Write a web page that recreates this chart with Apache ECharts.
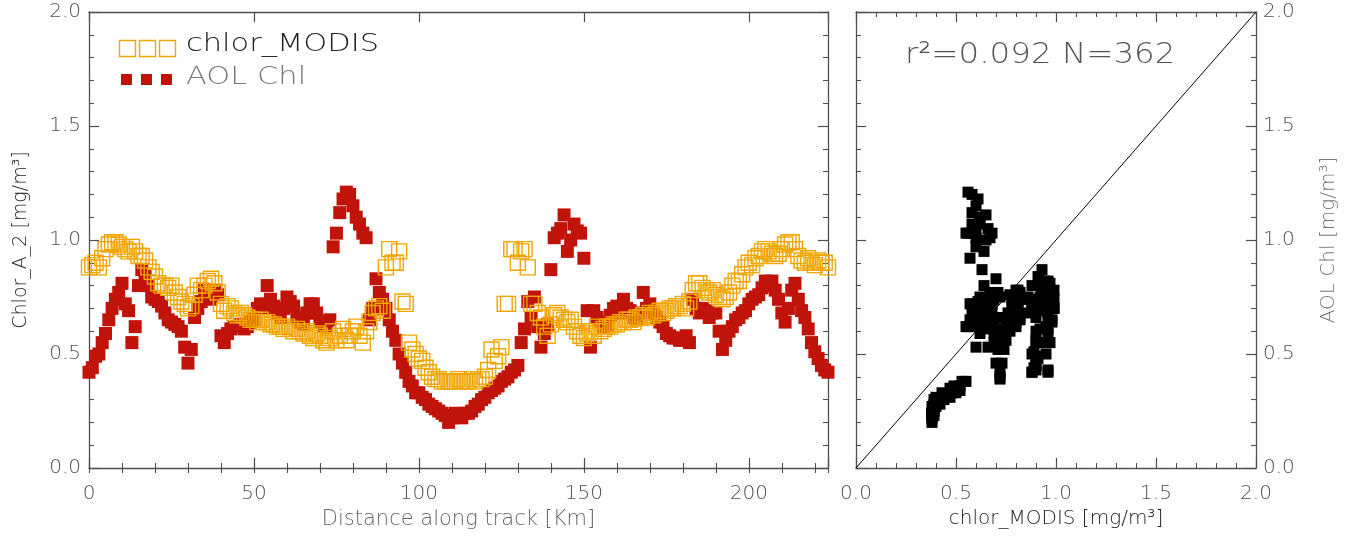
<!DOCTYPE html>
<html><head><meta charset="utf-8">
<script src="https://cdn.jsdelivr.net/npm/echarts@6/dist/echarts.min.js"></script>
<style>html,body{margin:0;padding:0;background:#fff}#c{width:1351px;height:537px}</style>
</head><body><div id="c"></div>
<script>
// Distance along track [Km]
const distanceKm = [
0,1,2,3,4,5,6,7,8,9,10,11,12,13,14,15,16,17,18,19,
20,21,22,23,24,25,26,27,28,29,30,31,32,33,34,35,36,37,38,39,
40,41,42,43,44,45,46,47,48,49,50,51,52,53,54,55,56,57,58,59,
60,61,62,63,64,65,66,67,68,69,70,71,72,73,74,75,76,77,78,79,
80,81,82,83,84,85,86,87,88,89,90,91,92,93,94,95,96,97,98,99,
100,101,102,103,104,105,106,107,108,109,110,111,112,113,114,115,116,117,118,119,
120,121,122,123,124,125,126,127,128,129,130,131,132,133,134,135,136,137,138,139,
140,141,142,143,144,145,146,147,148,149,150,151,152,153,154,155,156,157,158,159,
160,161,162,163,164,165,166,167,168,169,170,171,172,173,174,175,176,177,178,179,
180,181,182,183,184,185,186,187,188,189,190,191,192,193,194,195,196,197,198,199,
200,201,202,203,204,205,206,207,208,209,210,211,212,213,214,215,216,217,218,219,
220,221,222,223,224];

// chlor_MODIS [mg/m3]
const chlorModis = [
0.88,0.89,0.90,0.88,0.92,0.96,0.98,0.99,0.99,0.98,
0.97,0.96,0.95,0.97,0.95,0.93,0.93,0.91,0.88,0.86,
0.84,0.81,0.80,0.80,0.79,0.80,0.77,0.75,0.73,0.72,
0.70,0.71,0.76,0.80,0.78,0.80,0.82,0.83,0.81,0.77,
0.72,0.69,0.71,0.70,0.68,0.67,0.68,0.67,0.66,0.65,
0.65,0.64,0.65,0.64,0.64,0.63,0.63,0.62,0.62,0.61,
0.62,0.61,0.60,0.61,0.60,0.59,0.60,0.58,0.57,0.59,
0.58,0.56,0.55,0.57,0.60,0.56,0.58,0.61,0.56,0.58,
0.60,0.62,0.58,0.55,0.60,0.64,0.68,0.70,0.71,0.69,
0.88,0.96,0.90,0.90,0.95,0.73,0.72,0.55,0.52,0.50,
0.48,0.47,0.44,0.42,0.40,0.39,0.39,0.38,0.38,0.38,
0.38,0.38,0.39,0.38,0.38,0.38,0.39,0.38,0.39,0.39,
0.40,0.43,0.52,0.47,0.49,0.53,0.72,0.72,0.96,0.96,
0.90,0.95,0.96,0.88,0.72,0.72,0.68,0.66,0.62,0.58,
0.63,0.67,0.68,0.66,0.65,0.64,0.65,0.62,0.60,0.58,
0.57,0.59,0.60,0.58,0.62,0.60,0.61,0.62,0.62,0.63,
0.63,0.64,0.64,0.65,0.65,0.64,0.66,0.66,0.67,0.66,
0.68,0.67,0.68,0.69,0.68,0.69,0.70,0.70,0.71,0.71,
0.72,0.70,0.73,0.78,0.81,0.81,0.79,0.78,0.77,0.78,
0.76,0.75,0.74,0.75,0.77,0.80,0.82,0.82,0.85,0.88,
0.90,0.89,0.92,0.93,0.95,0.96,0.95,0.94,0.93,0.94,
0.96,0.98,0.99,0.99,0.96,0.93,0.91,0.90,0.92,0.90,
0.89,0.91,0.90,0.90,0.88];

// AOL Chl [mg/m3]
const aolChl = [
0.42,0.44,0.49,0.50,0.55,0.59,0.65,0.70,0.74,0.77,
0.81,0.72,0.69,0.55,0.62,0.80,0.87,0.84,0.80,0.75,
0.74,0.73,0.71,0.68,0.65,0.64,0.63,0.62,0.60,0.53,
0.46,0.52,0.66,0.70,0.73,0.78,0.77,0.74,0.78,0.76,
0.58,0.55,0.59,0.61,0.62,0.62,0.63,0.61,0.62,0.64,
0.65,0.70,0.72,0.70,0.80,0.74,0.71,0.68,0.66,0.70,
0.75,0.73,0.71,0.66,0.64,0.63,0.68,0.72,0.72,0.68,
0.64,0.62,0.62,0.65,0.97,1.03,1.12,1.18,1.21,1.20,
1.15,1.10,1.07,1.03,1.01,0.65,0.70,0.83,0.77,0.74,
0.70,0.65,0.60,0.56,0.50,0.46,0.42,0.38,0.36,0.33,
0.33,0.31,0.30,0.28,0.27,0.26,0.25,0.24,0.23,0.20,
0.22,0.24,0.23,0.22,0.24,0.24,0.25,0.27,0.28,0.30,
0.31,0.33,0.34,0.35,0.36,0.38,0.39,0.40,0.42,0.43,
0.45,0.55,0.61,0.73,0.66,0.75,0.62,0.53,0.59,0.63,
0.87,1.01,1.03,1.05,1.11,0.95,1.00,1.07,1.04,1.03,
0.92,0.69,0.53,0.69,0.66,0.64,0.62,0.63,0.67,0.70,
0.71,0.68,0.74,0.70,0.69,0.66,0.65,0.68,0.77,0.70,
0.72,0.68,0.66,0.64,0.62,0.59,0.58,0.57,0.57,0.56,
0.56,0.58,0.55,0.74,0.70,0.68,0.70,0.69,0.66,0.68,
0.68,0.60,0.52,0.56,0.60,0.62,0.65,0.66,0.68,0.69,
0.72,0.74,0.75,0.76,0.79,0.82,0.80,0.82,0.78,0.74,
0.68,0.64,0.70,0.78,0.81,0.74,0.69,0.66,0.61,0.55,
0.51,0.48,0.45,0.43,0.42];

const oneToOneLine = [0, 2];
const seriesNames = ['chlor_MODIS', 'AOL Chl'];
const statsLabel = 'r²=0.092 N=362';
const leftXName = 'Distance along track [Km]';
const leftYName = 'Chlor_A_2 [mg/m³]';
const rightXName = 'chlor_MODIS [mg/m³]';
const rightYName = 'AOL Chl [mg/m³]';

const FONT = 'DejaVu Sans';
const AX = '#505050';
const ORANGE = '#f0a500';
const RED = '#c0140a';

const modisPts = distanceKm.map((d, i) => [d, chlorModis[i]]);
const aolPts = distanceKm.map((d, i) => [d, aolChl[i]]);
const pairPts = chlorModis.map((m, i) => [m, aolChl[i]]);

function axis(o) {
  return Object.assign({
    type: 'value', scale: false,
    axisLine: { show: true, onZero: false, lineStyle: { color: AX, width: 1.3 } },
    axisTick: { show: true, inside: true, length: 10, lineStyle: { color: AX, width: 1.2 } },
    minorTick: { show: false },
    splitLine: { show: false },
    axisLabel: { show: false }
  }, o);
}
const lblStyle = { show: true, color: AX, fontFamily: FONT, fontSize: 20, fontWeight: 300 };
const minor = { show: true, splitNumber: 5, length: 5, lineStyle: { color: AX, width: 1.1 } };

const xAxes = [
  axis({ gridIndex: 0, position: 'bottom', min: 0, max: 224, interval: 50,
    axisLabel: Object.assign({}, lblStyle, { margin: 16, formatter: v => (v % 50 === 0 ? String(v) : '') }),
    name: leftXName, nameLocation: 'middle', nameGap: 40,
    nameTextStyle: { color: '#666', fontFamily: FONT, fontSize: 21, fontWeight: 300 } }),
  axis({ gridIndex: 0, position: 'bottom', min: 0, max: 224, interval: 10,
    axisLine: { show: false }, axisTick: { show: true, inside: true, length: 5, lineStyle: { color: AX, width: 1.1 } } }),
  axis({ gridIndex: 0, position: 'top', min: 0, max: 224, interval: 50 }),
  axis({ gridIndex: 0, position: 'top', min: 0, max: 224, interval: 10,
    axisLine: { show: false }, axisTick: { show: true, inside: true, length: 5, lineStyle: { color: AX, width: 1.1 } } }),
  axis({ gridIndex: 1, position: 'bottom', min: 0, max: 2, interval: 0.5, minorTick: minor,
    axisLabel: Object.assign({}, lblStyle, { margin: 16, formatter: v => v.toFixed(1) }),
    name: rightXName, nameLocation: 'middle', nameGap: 40,
    nameTextStyle: { color: '#222', fontFamily: FONT, fontSize: 20, fontWeight: 300 } }),
  axis({ gridIndex: 1, position: 'top', min: 0, max: 2, interval: 0.5, minorTick: minor })
];
const yAxes = [
  axis({ gridIndex: 0, position: 'left', min: 0, max: 2, interval: 0.5, minorTick: minor,
    axisLabel: Object.assign({}, lblStyle, { margin: 8, formatter: v => v.toFixed(1) }),
    name: leftYName, nameLocation: 'middle', nameGap: 58, nameRotate: 90,
    nameTextStyle: { color: '#222', fontFamily: FONT, fontSize: 19, fontWeight: 300 } }),
  axis({ gridIndex: 0, position: 'right', min: 0, max: 2, interval: 0.5, minorTick: minor }),
  axis({ gridIndex: 1, position: 'left', min: 0, max: 2, interval: 0.5, minorTick: minor }),
  axis({ gridIndex: 1, position: 'right', min: 0, max: 2, interval: 0.5, minorTick: minor,
    axisLabel: Object.assign({}, lblStyle, { margin: 7, formatter: v => v.toFixed(1) }),
    name: rightYName, nameLocation: 'middle', nameGap: 63, nameRotate: 90,
    nameTextStyle: { color: '#777', fontFamily: FONT, fontSize: 20, fontWeight: 300 } })
];

const chart = echarts.init(document.getElementById('c'), null, { renderer: 'canvas' });
chart.setOption({
  animation: false,
  backgroundColor: '#fff',
  grid: [
    { left: 89, right: 523, top: 12, bottom: 69 },
    { left: 856, right: 95, top: 12, bottom: 69 }
  ],
  xAxis: xAxes,
  yAxis: yAxes,
  series: [
    { name: seriesNames[1], type: 'scatter', xAxisIndex: 0, yAxisIndex: 0, data: aolPts,
      symbol: 'rect', symbolSize: 13, itemStyle: { color: RED, opacity: 1 } },
    { name: seriesNames[0], type: 'scatter', xAxisIndex: 0, yAxisIndex: 0, data: modisPts,
      symbol: 'rect', symbolSize: 15,
      itemStyle: { color: 'rgba(0,0,0,0)', borderColor: ORANGE, borderWidth: 1.4, opacity: 1 } },
    { name: 'scatter', type: 'scatter', xAxisIndex: 4, yAxisIndex: 2, data: pairPts,
      symbol: 'rect', symbolSize: 11, itemStyle: { color: '#000', opacity: 1 } },
    { name: '1:1', type: 'line', xAxisIndex: 4, yAxisIndex: 2, symbol: 'none',
      data: [[oneToOneLine[0], oneToOneLine[0]], [oneToOneLine[1], oneToOneLine[1]]],
      lineStyle: { color: '#000', width: 1 } }
  ],
  graphic: [
    { type: 'rect', left: 117, top: 38, shape: { width: 16, height: 16 }, style: { fill: 'none', stroke: ORANGE, lineWidth: 1.4 } },
    { type: 'rect', left: 137, top: 38, shape: { width: 16, height: 16 }, style: { fill: 'none', stroke: ORANGE, lineWidth: 1.4 } },
    { type: 'rect', left: 157, top: 38, shape: { width: 16, height: 16 }, style: { fill: 'none', stroke: ORANGE, lineWidth: 1.4 } },
    { type: 'rect', left: 121, top: 74, shape: { width: 11, height: 11 }, style: { fill: RED } },
    { type: 'rect', left: 141, top: 74, shape: { width: 11, height: 11 }, style: { fill: RED } },
    { type: 'rect', left: 161, top: 74, shape: { width: 11, height: 11 }, style: { fill: RED } },
    { type: 'text', x: 186, y: 32, scaleX: 1.22, style: { text: seriesNames[0], fill: '#222', font: '300 25px "DejaVu Sans"' } },
    { type: 'text', x: 186, y: 65, scaleX: 1.22, style: { text: seriesNames[1], fill: '#777', font: '300 25px "DejaVu Sans"' } },
    { type: 'text', x: 905, y: 41, scaleX: 1.12, style: { text: statsLabel, fill: '#555', font: '300 29px "DejaVu Sans"' } }
  ]
});
</script></body></html>
